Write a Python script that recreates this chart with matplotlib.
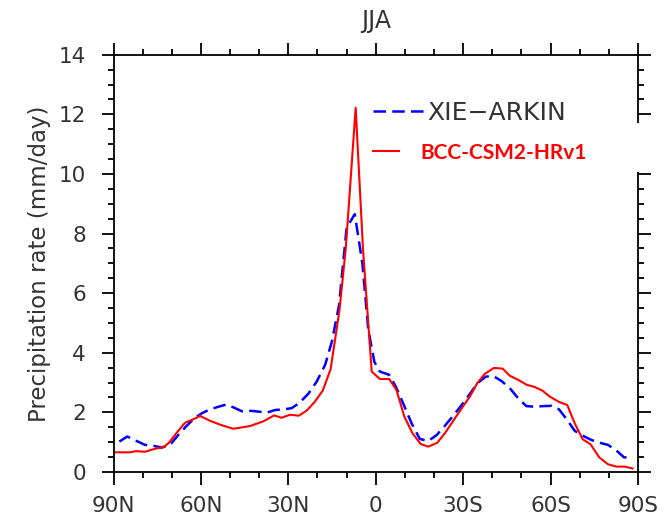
import numpy as np
import matplotlib
matplotlib.use("Agg")
import matplotlib.pyplot as plt
import matplotlib.ticker as ticker
from matplotlib.patches import Rectangle

# XIE-ARKIN (observed), latitude in degrees (N positive)
lat_xa = [88.0, 85.3, 82.3, 79.2, 76.3, 73.5, 70.6, 67.8, 64.9, 62.3,
          59.7, 56.9, 54.0, 51.4, 48.9, 46.0, 42.6, 39.7, 37.4, 34.6,
          31.8, 28.9, 26.3, 23.2, 20.3, 17.4, 15.0, 12.6, 10.0, 7.2,
          4.6, 2.6, 0.5, -1.4, -4.6, -6.9, -9.4, -12.3, -15.1, -18.0,
          -20.9, -23.7, -26.6, -29.5, -32.3, -34.9, -37.8, -40.3, -43.2, -46.0,
          -48.9, -51.7, -54.6, -57.4, -60.3, -62.9, -65.5, -68.3, -71.2, -74.1,
          -76.9, -79.7, -82.6, -85.2, -88.1]
pr_xa = [1.02, 1.19, 1.05, 0.91, 0.88, 0.82, 0.91, 1.24, 1.55, 1.80,
         1.97, 2.10, 2.19, 2.26, 2.17, 2.04, 2.05, 2.02, 1.99, 2.08,
         2.10, 2.14, 2.31, 2.62, 3.03, 3.59, 4.40, 5.60, 8.20, 8.65,
         7.00, 4.80, 3.70, 3.37, 3.26, 2.86, 2.30, 1.63, 1.11, 1.04,
         1.24, 1.55, 1.89, 2.25, 2.62, 2.98, 3.20, 3.22, 3.05, 2.81,
         2.47, 2.21, 2.19, 2.21, 2.22, 2.10, 1.77, 1.38, 1.21, 1.07,
         0.98, 0.91, 0.72, 0.49, 0.49]

# BCC-CSM2-HRv1 (model)
lat_bcc = [89.5, 84.3, 82.3, 79.2, 75.8, 72.9, 71.0, 68.3, 65.5, 62.6,
           60.3, 56.9, 53.5, 48.9, 43.2, 38.6, 34.9, 32.3, 29.5, 26.4,
           23.7, 20.9, 18.2, 15.5, 12.5, 10.3, 6.9, 4.4, 1.4, -1.4,
           -4.6, -7.1, -9.8, -12.6, -15.4, -18.0, -21.1, -23.7, -26.6, -29.5,
           -32.3, -34.8, -37.4, -40.5, -43.5, -46.0, -48.9, -51.7, -54.6, -57.2,
           -59.7, -62.9, -65.7, -68.3, -71.0, -73.7, -76.7, -79.7, -82.6, -85.5,
           -88.1]
pr_bcc = [0.66, 0.66, 0.70, 0.68, 0.78, 0.83, 0.98, 1.32, 1.65, 1.77,
          1.88, 1.72, 1.59, 1.45, 1.54, 1.70, 1.90, 1.82, 1.92, 1.89,
          2.06, 2.36, 2.73, 3.45, 5.40, 7.50, 12.22, 7.50, 3.37, 3.12,
          3.12, 2.75, 1.86, 1.30, 0.94, 0.85, 0.98, 1.30, 1.72, 2.14,
          2.53, 2.98, 3.29, 3.49, 3.47, 3.23, 3.09, 2.93, 2.85, 2.73,
          2.53, 2.35, 2.25, 1.63, 1.10, 0.93, 0.49, 0.26, 0.18, 0.18,
          0.12]

x_ticks = [90, 60, 30, 0, -30, -60, -90]
x_ticklabels = ["90N", "60N", "30N", "0", "30S", "60S", "90S"]
y_ticks = [0, 2, 4, 6, 8, 10, 12, 14]

TXT = "#333333"

fig = plt.figure(figsize=(6.69, 5.18), dpi=100)
ax = fig.add_axes([0.1697, 0.0888, 0.784, 0.8056])

l_xa, = ax.plot(lat_xa, pr_xa, color="#0000ff", lw=1.8, dashes=(5, 2.5),
                label="XIE\u2212ARKIN")
l_bcc, = ax.plot(lat_bcc, pr_bcc, color="#ff0000", lw=1.5,
                 label="BCC-CSM2-HRv1")

ax.set_xlim(90, -90)
ax.set_ylim(0, 14)
ax.set_xticks(x_ticks)
ax.set_xticklabels(x_ticklabels)
ax.set_yticks(y_ticks)
ax.xaxis.set_minor_locator(ticker.MultipleLocator(10))
ax.yaxis.set_minor_locator(ticker.MultipleLocator(0.5))

for s in ax.spines.values():
    s.set_linewidth(1.3)
ax.tick_params(which="both", direction="out", top=True, right=True,
               width=1.3, color="black")
ax.tick_params(which="major", length=9)
ax.tick_params(which="minor", length=4.5)
ax.tick_params(axis="x", which="major", labelsize=15.5, labelcolor=TXT, pad=8)
ax.tick_params(axis="y", which="major", labelsize=15.5, labelcolor=TXT, pad=11)

ax.set_ylabel("Precipitation rate (mm/day)", fontsize=16.5, color=TXT,
              labelpad=5)
ax.set_title("JJA", fontsize=17, color=TXT, pad=19)

# legend: two separate pieces like the original composite
leg1 = ax.legend(handles=[l_xa], loc="center left",
                 bbox_to_anchor=(0.4948, 0.861), frameon=False,
                 borderpad=0, borderaxespad=0, handlelength=2.1,
                 handletextpad=0.05, prop={"size": 18})
for t in leg1.get_texts():
    t.set_color(TXT)
ax.add_artist(leg1)
leg2 = ax.legend(handles=[l_bcc], loc="center left",
                 bbox_to_anchor=(0.4948, 0.765), frameon=False,
                 borderpad=0, borderaxespad=0, handlelength=1.25,
                 handletextpad=1.0,
                 prop={"family": "Lato", "weight": "bold", "size": 15})
for t in leg2.get_texts():
    t.set_color("#ff0000")

# white patch hiding part of the right frame, as in the original image
fig.patches.append(Rectangle((0.934, 0.668), 0.029, 0.094,
                             transform=fig.transFigure, facecolor="white",
                             edgecolor="none", zorder=10))

fig.savefig("out.png", dpi=100)
